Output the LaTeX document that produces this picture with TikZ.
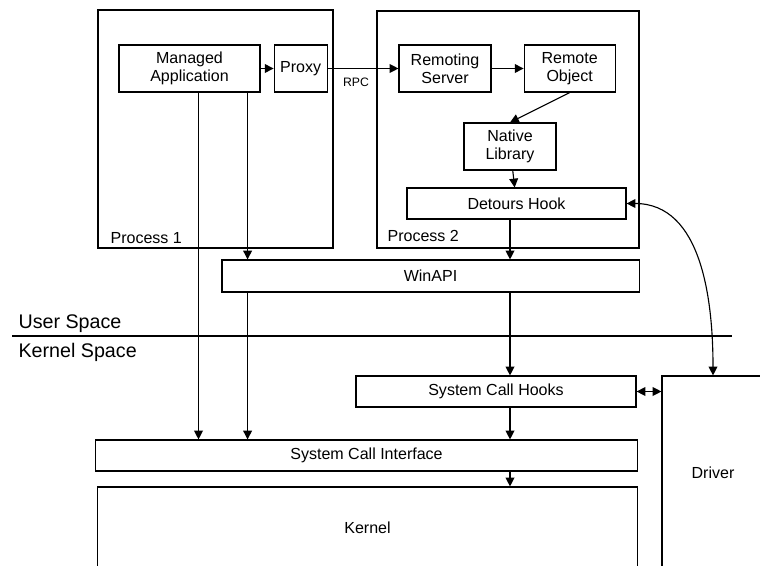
\documentclass[tikz,border=0pt]{standalone}
\usepackage{fontspec}
\setmainfont{Liberation Sans}
\usetikzlibrary{positioning,arrows.meta,calc}

\begin{document}
\begin{tikzpicture}[x=0.025cm,y=-0.025cm,>={Triangle[length=2.2mm,width=2.2mm]},
    line width=0.8pt,
    box/.style={draw,align=center,inner sep=2pt,font=\fontsize{11.4}{12.8}\selectfont},
    tall/.style={box,minimum height=1.175cm},
    flat/.style={box,minimum height=0.775cm},
    lbl/.style={anchor=base west,inner sep=0pt,font=\fontsize{11.4}{12.8}\selectfont},
    space/.style={anchor=base west,inner sep=0pt,font=\fontsize{14}{16}\selectfont}]
    \useasboundingbox (0,0) rectangle (760,565);
    % process frames
    \node[draw,minimum width=5.875cm,minimum height=5.95cm] (p1) at (215.5,129) {};
    \node[draw,minimum width=6.55cm,minimum height=5.925cm] (p2) at (508,129.5) {};
    \node[lbl] (p1name) at (110,243) {Process 1};
    \node[lbl] (p2name) at (387,241) {Process 2};
    % user side
    \node[tall,minimum width=3.525cm] (app) at (189.5,68.5) {Managed\\Application};
    \node[tall,minimum width=1.325cm,right=0.325cm of app] (proxy) {Proxy};
    \node[tall,minimum width=2.3cm] (rs) at (445,68.5) {Remoting\\Server};
    \node[tall,minimum width=2.275cm,right=0.8cm of rs] (ro) {Remote\\Object};
    \node[tall,minimum width=2.3cm] (nl) at (510,146.5) {Native\\Library};
    \node[flat,minimum width=5.475cm] (dh) at (516.5,203.5) {Detours Hook};
    \node[box,minimum width=10.425cm,minimum height=0.8cm] (win) at (430.5,276) {WinAPI};
    % kernel side
    \node[flat,minimum width=7cm] (sch) at (496,391.5) {System Call Hooks};
    \node[flat,minimum width=13.525cm] (sci) at (366.5,455.5) {System Call Interface};
    \node[box,minimum width=13.475cm,minimum height=2.05cm] (kern) at (367.5,528) {Kernel};
    \node[box,minimum width=2.55cm,minimum height=4.85cm] (drv) at (713,473) {Driver};
    % user / kernel border
    \draw[line width=1.8pt] (12,336) -- (732,336);
    \node[space] (us) at (18,328) {User Space};
    \node[space] (ks) at (18,357) {Kernel Space};
    % calls
    \coordinate (c1) at ([xshift=0.225cm]app.south);
    \coordinate (c2) at ([xshift=-0.325cm]app.south east);
    \draw[->] (app) -- (proxy);
    \draw[->] (proxy) -- node[below=3pt,xshift=-0.175cm,font=\fontsize{8.7}{10}\selectfont] (rpc) {RPC} (rs);
    \draw[->] (rs) -- (ro);
    \draw[->] (ro.south) -- (nl.north);
    \draw[->] (nl) -- (dh);
    \draw[->] (nl |- dh.south) -- (nl |- win.north);
    \draw[->] (nl |- win.south) -- (nl |- sch.north);
    \draw[->] (nl |- sch.south) -- (nl |- sci.north);
    \draw[->] (nl |- sci.south) -- (nl |- kern.north);
    \draw[->] (c2) -- (c2 |- win.north);
    \draw[->] (c2 |- win.south) -- (c2 |- sci.north);
    \draw[->] (c1) -- (c1 |- sci.north);
    \draw[<->] (sch.east) -- (sch.east -| drv.west);
    \draw[<->] (dh.east) to[out=0,in=90] (drv.north);
\end{tikzpicture}
\end{document}
